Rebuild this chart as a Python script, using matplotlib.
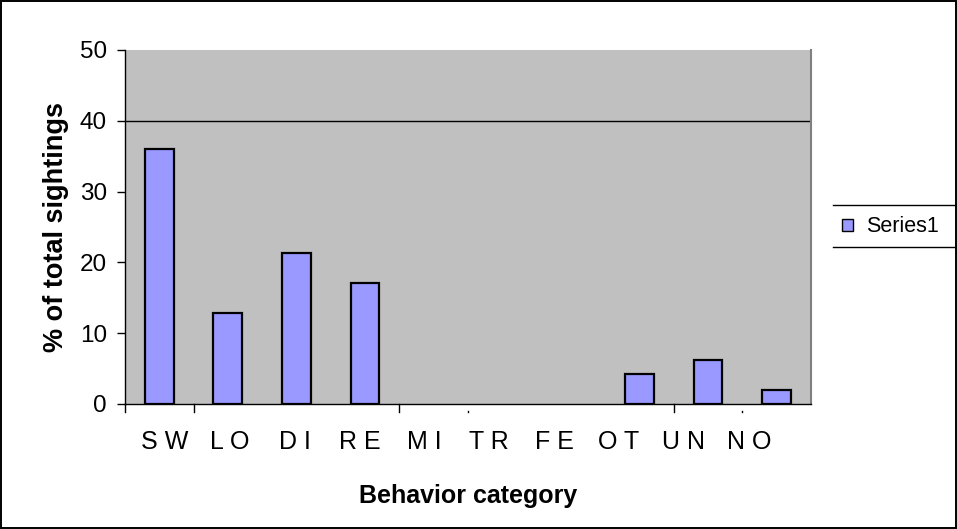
import matplotlib.pyplot as plt
from matplotlib.lines import Line2D
from matplotlib.patches import Patch

plt.rcParams['font.family'] = ['Liberation Sans', 'DejaVu Sans']

categories = ["S W", "L O", "D I", "R E", "M I", "T R", "F E", "O T", "U N", "N O"]
values = [36, 12.8, 21.3, 17.1, 0, 0, 0, 4.2, 6.2, 2.0]
yticks = [0, 10, 20, 30, 40, 50]

fig = plt.figure(figsize=(9.57, 5.29), dpi=100)
ax = fig.add_axes([0.1306, 0.2363, 0.7168, 0.6692])
ax.set_facecolor("#C0C0C0")

x = list(range(len(categories)))
# zero-height bars are not drawn in the original
lws = [1.6 if v > 0 else 0 for v in values]
ax.bar(x, values, width=0.42, color="#9999FF", edgecolor="black", linewidth=lws, zorder=3)
ax.axhline(40, color="black", linewidth=1, zorder=2)

ax.set_xlim(-0.5, len(categories) - 0.5)
ax.set_ylim(0, 50)
ax.set_yticks(yticks)
ax.tick_params(axis="y", labelsize=17.5, length=6, width=1, direction="out", pad=7)

# category labels are spaced a bit tighter than the bars (Excel quirk)
label_start, label_step = 0.08, 0.946
ax.set_xticks([label_start + i * label_step for i in x])
ax.set_xticklabels(categories, fontsize=18)
ax.tick_params(axis="x", length=0, pad=19)
for tx in [-0.5, 0.5, 3.5, 7.5]:
    ax.plot([tx, tx], [0, -1.15], color="black", lw=1, clip_on=False, zorder=4)
for tx in [4.5, 8.5]:
    ax.plot([tx, tx], [-0.95, -1.2], color="black", lw=1, clip_on=False, zorder=4)

ax.spines["top"].set_visible(False)
ax.spines["right"].set_color("#808080")
ax.spines["right"].set_linewidth(1.5)
ax.spines["left"].set_linewidth(1)
ax.spines["bottom"].set_linewidth(1)

ax.set_xlabel("Behavior category", fontsize=18, fontweight="bold", labelpad=21)
ax.set_ylabel("% of total sightings", fontsize=19.5, fontweight="bold", labelpad=8)

# legend with only top and bottom rules
fig.add_artist(Line2D([833 / 957, 1.0], [1 - 205 / 529, 1 - 205 / 529], color="black", lw=1))
fig.add_artist(Line2D([833 / 957, 1.0], [1 - 247 / 529, 1 - 247 / 529], color="black", lw=1))
fig.legend(handles=[Patch(facecolor="#9999FF", edgecolor="black", label="Series1")],
           loc="center left", bbox_to_anchor=(842 / 957, 1 - 227 / 529), frameon=False,
           fontsize=15.5, handlelength=0.5, handleheight=0.5, handletextpad=0.6,
           borderpad=0, borderaxespad=0)

# outer frame
fig.add_artist(plt.Rectangle((0.001, 0.001), 0.998, 0.997, fill=False, edgecolor="black",
                             lw=1.4, transform=fig.transFigure))

fig.savefig("out.png", dpi=100)
